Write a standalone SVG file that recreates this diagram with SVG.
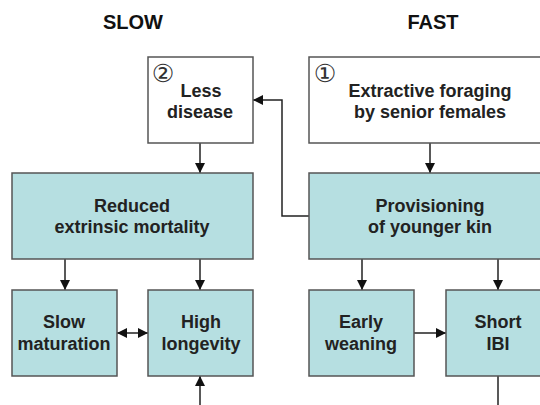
<svg xmlns="http://www.w3.org/2000/svg" width="540" height="405" viewBox="0 0 540 405">
<defs>
<marker id="ah" viewBox="0 0 10 10" refX="10" refY="5" markerWidth="10" markerHeight="10" markerUnits="userSpaceOnUse" orient="auto-start-reverse">
<path d="M0,0 L10,5 L0,10 Z" fill="#111"/>
</marker>
<style>
.box{stroke:#555;stroke-width:1.5}
.teal{fill:#b6dfe1}
.white{fill:#fff}
.t{font-family:"Liberation Sans",Arial,sans-serif;font-weight:bold;font-size:18px;fill:#222;text-anchor:middle}
.h{font-family:"Liberation Sans",Arial,sans-serif;font-weight:bold;font-size:20px;fill:#111;text-anchor:middle}
.n{font-family:"DejaVu Sans",sans-serif;font-size:25px;fill:#333;text-anchor:middle;dominant-baseline:central}
.c{fill:none;stroke:#222;stroke-width:1.5}
</style>
</defs>
<rect width="540" height="405" fill="#fff"/>
<text class="h" x="133" y="29">SLOW</text>
<text class="h" x="433" y="29">FAST</text>
<g id="connectors">
<line class="c" x1="200" y1="143" x2="200" y2="173" marker-end="url(#ah)"/>
<line class="c" x1="430" y1="143" x2="430" y2="173" marker-end="url(#ah)"/>
<polyline class="c" points="309,216 282,216 282,100 253,100" marker-end="url(#ah)"/>
<line class="c" x1="65" y1="259" x2="65" y2="290" marker-end="url(#ah)"/>
<line class="c" x1="200" y1="259" x2="200" y2="290" marker-end="url(#ah)"/>
<line class="c" x1="117" y1="333" x2="148" y2="333" marker-start="url(#ah)" marker-end="url(#ah)"/>
<line class="c" x1="362" y1="259" x2="362" y2="290" marker-end="url(#ah)"/>
<line class="c" x1="498" y1="259" x2="498" y2="290" marker-end="url(#ah)"/>
<line class="c" x1="414" y1="333" x2="446" y2="333" marker-end="url(#ah)"/>
<line class="c" x1="498" y1="376" x2="498" y2="406"/>
<line class="c" x1="200" y1="406" x2="200" y2="376" marker-end="url(#ah)"/>
</g>
<g id="less-disease">
<rect class="box white" x="148" y="57" width="105" height="86"/>
<text class="n" x="163" y="73">②</text>
<text class="t" x="201" y="97">Less</text>
<text class="t" x="200" y="118">disease</text>
</g>
<g id="extractive-foraging">
<rect class="box white" x="309" y="57" width="242" height="86"/>
<text class="n" x="325" y="73">①</text>
<text class="t" x="430" y="97">Extractive foraging</text>
<text class="t" x="430" y="118">by senior females</text>
</g>
<g id="reduced-mortality">
<rect class="box teal" x="12" y="173" width="241" height="86"/>
<text class="t" x="132" y="212">Reduced</text>
<text class="t" x="132" y="233">extrinsic mortality</text>
</g>
<g id="provisioning">
<rect class="box teal" x="309" y="173" width="242" height="86"/>
<text class="t" x="430" y="212">Provisioning</text>
<text class="t" x="430" y="233">of younger kin</text>
</g>
<g id="slow-maturation">
<rect class="box teal" x="12" y="290" width="105" height="86"/>
<text class="t" x="64" y="328">Slow</text>
<text class="t" x="64" y="350">maturation</text>
</g>
<g id="high-longevity">
<rect class="box teal" x="148" y="290" width="105" height="86"/>
<text class="t" x="201" y="328">High</text>
<text class="t" x="201" y="350">longevity</text>
</g>
<g id="early-weaning">
<rect class="box teal" x="309" y="290" width="105" height="86"/>
<text class="t" x="361" y="328">Early</text>
<text class="t" x="361" y="350">weaning</text>
</g>
<g id="short-ibi">
<rect class="box teal" x="446" y="290" width="105" height="86"/>
<text class="t" x="498" y="328">Short</text>
<text class="t" x="498" y="350">IBI</text>
</g>
</svg>
